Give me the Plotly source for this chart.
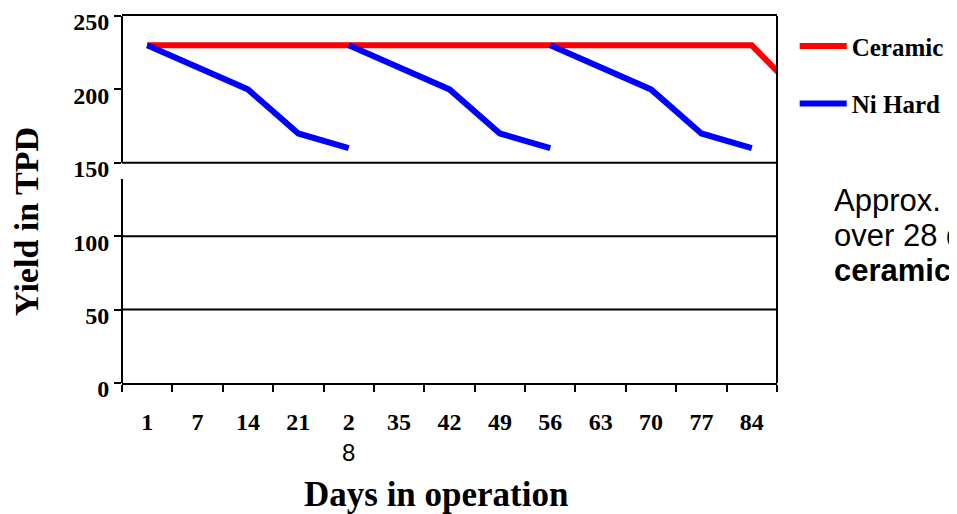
import plotly.graph_objects as go

# x categories (days in operation); "91" lies just past the visible range
days = ["1", "7", "14", "21", "28", "35", "42", "49", "56", "63", "70", "77", "84", "91"]
day_labels = ["1", "7", "14", "21", "2<br><span style=\"font-family:'Liberation Sans';font-weight:normal\">8</span>",
              "35", "42", "49", "56", "63", "70", "77", "84", ""]

ceramic_yield = [230, 230, 230, 230, 230, 230, 230, 230, 230, 230, 230, 230, 230, 195]

# Ni Hard runs in 28-day cycles, separated by gaps
nihard_days = ["1", "7", "14", "21", "28", None,
               "28", "35", "42", "49", "56", None,
               "56", "63", "70", "77", "84"]
nihard_yield = [230, 215, 200, 170, 160, None,
                230, 215, 200, 170, 160, None,
                230, 215, 200, 170, 160]

y_ticks = [0, 50, 100, 150, 200, 250]
grid_values = [50, 100, 150]

note_lines = ["Approx.", "over 28 days", "<b>ceramic</b>"]

SERIF = "Liberation Serif"
BLACK = "#000000"

fig = go.Figure()
fig.add_trace(
    go.Scatter(
        x=days,
        y=ceramic_yield,
        mode="lines",
        name="Ceramic",
        legendgroup="ceramic",
        line={"color": "#FF0000", "width": 6},
    )
)
fig.add_trace(
    go.Scatter(
        x=nihard_days,
        y=nihard_yield,
        mode="lines",
        name="Ni Hard",
        legendgroup="nihard",
        connectgaps=False,
        line={"color": "#0000FF", "width": 6},
    )
)

# horizontal rules across the plot
shapes = [
    {"type": "line", "xref": "paper", "yref": "y", "x0": 0, "x1": 1, "y0": v, "y1": v,
     "line": {"color": BLACK, "width": 2}}
    for v in grid_values
]
# broken left axis line and right border
shapes += [
    {"type": "line", "xref": "paper", "yref": "y", "x0": 0, "x1": 0, "y0": 0, "y1": 139,
     "line": {"color": BLACK, "width": 2}},
    {"type": "line", "xref": "paper", "yref": "y", "x0": 0, "x1": 0, "y0": 150, "y1": 250,
     "line": {"color": BLACK, "width": 2}},
    {"type": "line", "xref": "paper", "yref": "paper", "x0": 1, "x1": 1, "y0": 0, "y1": 1,
     "line": {"color": BLACK, "width": 2}},
]

annotations = [
    {
        "text": "Yield in TPD",
        "xref": "paper", "yref": "paper",
        "x": -0.146, "y": 0.44,
        "xanchor": "center", "yanchor": "middle",
        "textangle": -90,
        "showarrow": False,
        "font": {"family": SERIF, "size": 34, "color": BLACK, "weight": "bold"},
    },
    {
        "text": "Days in operation",
        "xref": "paper", "yref": "paper",
        "x": 0.479, "y": -0.305,
        "xanchor": "center", "yanchor": "middle",
        "showarrow": False,
        "font": {"family": SERIF, "size": 35, "color": BLACK, "weight": "bold"},
    },
]
# side note, one annotation per line
for i, line in enumerate(note_lines):
    annotations.append(
        {
            "text": line,
            "xref": "paper", "yref": "paper",
            "x": 1.084, "y": 0.4986 - i * 0.0954,
            "xanchor": "left", "yanchor": "middle",
            "align": "left",
            "showarrow": False,
            "font": {"family": "Liberation Sans", "size": 31, "color": BLACK},
        }
    )

# page body has an 8px margin, so the figure is 8px smaller than the window
fig.update_layout(
    width=949,
    height=506,
    paper_bgcolor="white",
    plot_bgcolor="white",
    margin={"l": 114, "r": 177, "t": 8, "b": 131},
    shapes=shapes,
    annotations=annotations,
    xaxis={
        "type": "category",
        "categoryorder": "array",
        "categoryarray": days,
        "tickvals": days,
        "ticktext": day_labels,
        "range": [-0.5, 12.5],
        "tickson": "boundaries",
        "ticks": "outside",
        "ticklen": 7,
        "tickwidth": 2,
        "tickcolor": BLACK,
        "showline": True,
        "linecolor": BLACK,
        "linewidth": 2,
        "mirror": True,
        "showgrid": False,
        "zeroline": False,
        "automargin": False,
        "tickfont": {"family": SERIF, "size": 24, "color": BLACK, "weight": "bold"},
        "ticklabelstandoff": 16,
    },
    yaxis={
        "range": [0, 250],
        "tickvals": y_ticks,
        "ticks": "outside",
        "ticklen": 7,
        "tickwidth": 2,
        "tickcolor": BLACK,
        "showline": False,
        "showgrid": False,
        "zeroline": False,
        "automargin": False,
        "ticklabeloverflow": "allow",
        "ticklabelshift": 6,
        "tickfont": {"family": SERIF, "size": 24, "color": BLACK, "weight": "bold"},
    },
    legend={
        "x": 1.027,
        "y": 0.98,
        "xanchor": "left",
        "yanchor": "top",
        "traceorder": "grouped",
        "tracegroupgap": 22,
        "itemwidth": 47,
        "font": {"family": SERIF, "size": 25, "color": BLACK, "weight": "bold"},
        "bgcolor": "rgba(0,0,0,0)",
    },
)

fig.write_html("out.html")
